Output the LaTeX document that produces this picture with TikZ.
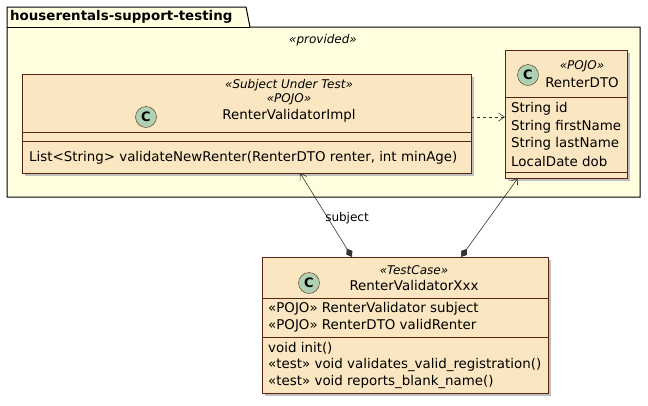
\documentclass[tikz,border=0pt]{standalone}
\usepackage{fontspec}
\setmainfont{DejaVu Sans}
\usetikzlibrary{arrows.meta,positioning}
\definecolor{pkgfill}{RGB}{255,255,224}
\definecolor{clsfill}{RGB}{250,230,192}
\definecolor{clsline}{RGB}{150,60,30}
\definecolor{spot}{RGB}{173,209,178}
\tikzset{
  cls/.style = {draw=clsline!60!black, fill=clsfill, line width=0.6pt},
  shade_box/.style = {fill=black!25, draw=none},
  spotc/.style = {circle, draw=clsline!60!black, fill=spot, minimum size=21pt,
    inner sep=0pt, font=\fontsize{13}{13}\selectfont\bfseries},
  txt/.style = {inner sep=0pt, font=\fontsize{13.4}{15}\selectfont},
  stereo/.style = {txt, font=\fontsize{12}{13}\selectfont\itshape},
  sep/.style = {draw=clsline!60!black, line width=0.5pt},
  link/.style = {draw=black!80, line width=0.6pt}
}
\begin{document}
\begin{tikzpicture}[x=1pt,y=-1pt]
  \useasboundingbox (0,0) rectangle (648,405);
  % package
  \draw[fill=pkgfill, line width=1pt] (7,7) -- (246,7) -- (250,27) -- (640,27) -- (640,197) -- (7,197) -- cycle;
  \draw[line width=1pt] (7,27) -- (250,27);
  \node[txt, anchor=west, font=\fontsize{13.4}{15}\selectfont\bfseries] (pkg) at (10,17) {houserentals-support-testing};
  \node[stereo] (prov) at (323,40) {«provided»};

  % RenterValidatorImpl
  \fill[shade_box] (25,77) rectangle (474,176);
  \draw[cls] (22,74) rectangle (471,173);
  \coordinate (impl) at (300,173);
  \coordinate (implE) at (471,117);
  \node[spotc] (c1) at (146,117) {C};
  \node[stereo] at (289,85) {«Subject Under Test»};
  \node[stereo] at (289,99) {«POJO»};
  \node[txt] at (289,116) {RenterValidatorImpl};
  \draw[sep] (22,132) -- (471,132);
  \draw[sep] (22,141) -- (471,141);
  \node[txt, anchor=west] at (29,158) {List<String> validateNewRenter(RenterDTO renter, int minAge)};

  % RenterDTO
  \fill[shade_box] (508,53) rectangle (630,181);
  \draw[cls] (505,50) rectangle (627,178);
  \coordinate (dto) at (518,178);
  \coordinate (dtoW) at (505,117);
  \node[spotc] (c2) at (528,75) {C};
  \node[stereo] at (582,66) {«POJO»};
  \node[txt] at (582,83) {RenterDTO};
  \draw[sep] (505,97) -- (627,97);
  \node[txt, anchor=west] at (511,109) {String id};
  \node[txt, anchor=west] at (511,127) {String firstName};
  \node[txt, anchor=west] at (511,144) {String lastName};
  \node[txt, anchor=west] at (511,161) {LocalDate dob};
  \draw[sep] (505,172) -- (627,172);

  % RenterValidatorXxx
  \fill[shade_box] (265,260) rectangle (551,396);
  \draw[cls] (262,257) rectangle (548,393);
  \coordinate (xxA) at (352,257);
  \coordinate (xxB) at (461,257);
  \node[spotc] (c3) at (309,283) {C};
  \node[stereo] at (414,270) {«TestCase»};
  \node[txt] at (414,285) {RenterValidatorXxx};
  \draw[sep] (262,298) -- (548,298);
  \node[txt, anchor=west] at (268,309) {«POJO» RenterValidator subject};
  \node[txt, anchor=west] at (268,326) {«POJO» RenterDTO validRenter};
  \draw[sep] (262,337) -- (548,337);
  \node[txt, anchor=west] at (268,348) {void init()};
  \node[txt, anchor=west] at (268,365) {«test» void validates\_valid\_registration()};
  \node[txt, anchor=west] at (268,382) {«test» void reports\_blank\_name()};

  % links
  \draw[link, dashed, -{Straight Barb[length=6pt,width=8pt]}] (implE) -- (dtoW);
  \draw[link, {Straight Barb[length=6pt,width=8pt]}-{Diamond[length=10pt,width=7pt]}] (impl) -- (xxA);
  \node[txt, font=\fontsize{12}{13}\selectfont] (lbl) at (347,218) {subject};
  \draw[link, {Straight Barb[length=6pt,width=8pt]}-{Diamond[length=10pt,width=7pt]}] (dto) -- (xxB);
\end{tikzpicture}
\end{document}
